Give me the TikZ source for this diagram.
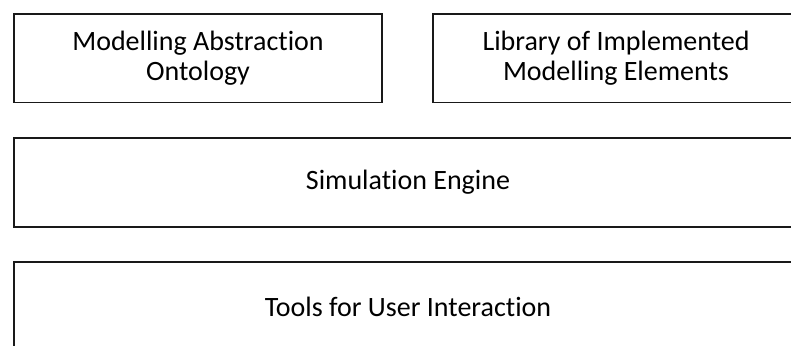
\documentclass[tikz,border=0pt]{standalone}
\usepackage{fontspec}
\setmainfont[Ligatures=NoCommon]{Carlito}
\begin{document}
\begin{tikzpicture}[x=1pt,y=1pt,
  layer/.style={draw=black!90, line width=1.5pt, fill=white, align=center,
    inner sep=0pt, font=\fontsize{28pt}{30.5pt}\selectfont}]
  % page frame; the lower and right rows run past its edges
  \useasboundingbox (0,0) rectangle (791,-345);
  \clip (0,0) rectangle (791,-345);
  \node[layer, minimum width=368, minimum height=88.5] (onto) at (198,-58.2)
    {Modelling Abstraction\\Ontology};
  \node[layer, minimum width=366, minimum height=88.5] (lib) at (616,-58.2)
    {Library of Implemented\\Modelling Elements};
  \node[layer, minimum width=788, minimum height=89] (engine) at (408,-182.5)
    {Simulation Engine};
  \node[layer, minimum width=788, minimum height=89] (tools) at (408,-306.5)
    {Tools for User Interaction};
\end{tikzpicture}
\end{document}
